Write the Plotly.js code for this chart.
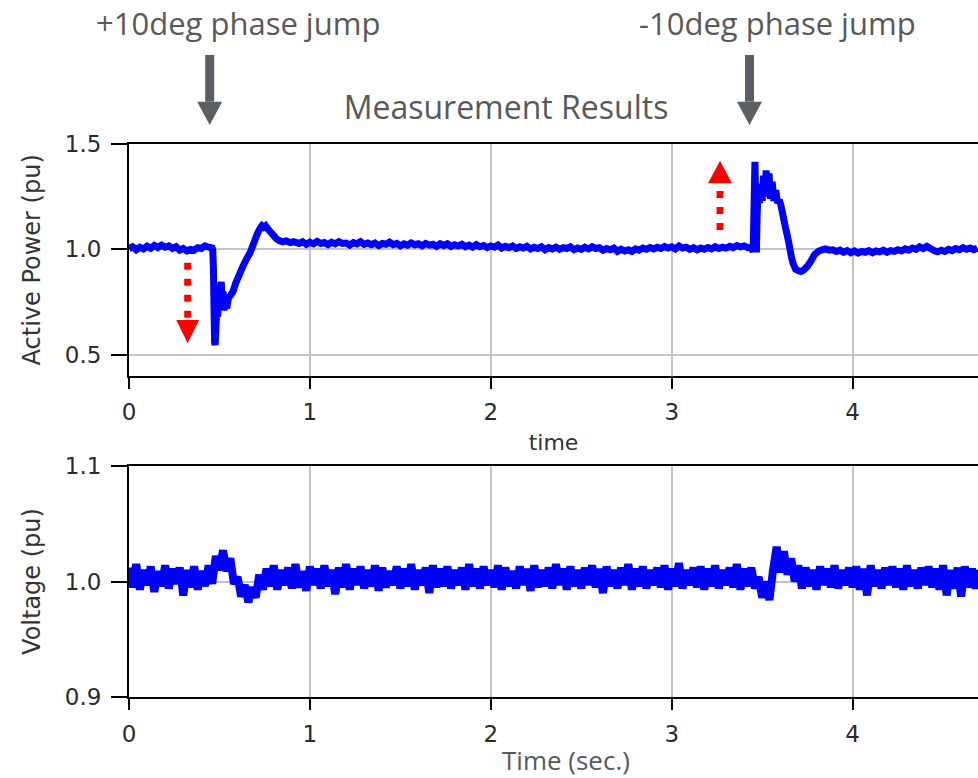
<!DOCTYPE html>
<html>
<head>
<meta charset="utf-8">
<script src="https://cdn.plot.ly/plotly-3.0.1.min.js"></script>
<style>html,body{margin:0;padding:0;background:#fff;}#chart{width:978px;height:778px;}</style>
</head>
<body>
<div id="chart"></div>
<script>
// ---------- Active power (pu), top panel ----------
const tA = [0,0.02,0.04,0.06,0.08,0.10,0.12,0.14,0.16,0.18,0.20,0.22,0.24,0.26,0.28,0.30,0.32,0.34,0.36,0.38,0.40,0.42,0.44,0.46];
const pA = [1.004,1.012,0.998,1.010,1.002,1.015,1.005,1.018,1.008,1.020,1.010,1.016,1.004,1.012,0.996,1.004,0.992,1.000,0.996,1.008,1.004,1.016,1.010,1.006];

const tJ1 = [0.463,0.467,0.470,0.473,0.476,0.480,0.485,0.490,0.495,0.500,0.505,0.510,0.515,0.520,0.525,0.530,0.540,0.550,0.560,0.575,0.590,0.610,0.630,0.650,0.670,0.690,0.710,0.725,0.735,0.745,0.755,0.765,0.780,0.800,0.815,0.830,0.850,0.870,0.890,0.910];
const pJ1 = [0.998,0.90,0.72,0.56,0.545,0.62,0.72,0.68,0.78,0.74,0.82,0.845,0.76,0.80,0.71,0.76,0.72,0.77,0.78,0.80,0.84,0.88,0.92,0.955,0.985,1.03,1.075,1.10,1.112,1.105,1.112,1.10,1.085,1.065,1.05,1.042,1.036,1.040,1.032,1.036];

const tB = [0.94,0.96,0.98,1.00,1.02,1.04,1.06,1.08,1.10,1.12,
1.14,1.16,1.18,1.20,1.22,1.24,1.26,1.28,1.30,1.32,
1.34,1.36,1.38,1.40,1.42,1.44,1.46,1.48,1.50,1.52,
1.54,1.56,1.58,1.60,1.62,1.64,1.66,1.68,1.70,1.72,
1.74,1.76,1.78,1.80,1.82,1.84,1.86,1.88,1.90,1.92,
1.94,1.96,1.98,2.00,2.02,2.04,2.06,2.08,2.10,2.12,
2.14,2.16,2.18,2.20,2.22,2.24,2.26,2.28,2.30,2.32,
2.34,2.36,2.38,2.40,2.42,2.44,2.46,2.48,2.50,2.52,
2.54,2.56,2.58,2.60,2.62,2.64,2.66,2.68,2.70,2.72,
2.74,2.76,2.78,2.80,2.82,2.84,2.86,2.88,2.90,2.92,
2.94,2.96,2.98,3.00,3.02,3.04,3.06,3.08,3.10,3.12,
3.14,3.16,3.18,3.20,3.22,3.24,3.26,3.28,3.30,3.32,
3.34,3.36,3.38,3.40,3.42];
const pB = [1.028,1.036,1.024,1.034,1.026,1.038,1.028,1.032,1.022,1.034,
1.026,1.036,1.028,1.030,1.020,1.032,1.026,1.036,1.024,1.030,
1.022,1.030,1.018,1.028,1.024,1.034,1.022,1.028,1.016,1.026,
1.020,1.030,1.022,1.026,1.016,1.028,1.020,1.024,1.014,1.026,
1.018,1.026,1.014,1.022,1.016,1.024,1.012,1.020,1.010,1.022,
1.012,1.018,1.008,1.016,1.010,1.020,1.006,1.014,1.008,1.016,
1.004,1.012,1.006,1.014,1.002,1.010,1.004,1.012,0.998,1.008,
1.002,1.010,1.000,1.008,1.004,1.012,0.998,1.006,1.000,1.010,
1.002,1.012,1.004,1.008,0.996,1.004,0.998,1.006,0.990,1.000,
0.992,0.998,0.990,1.002,0.996,1.006,1.000,1.008,1.002,1.010,
1.004,1.014,1.006,1.012,1.002,1.016,1.006,1.010,1.000,1.008,
0.998,1.006,1.000,1.008,1.002,1.012,1.004,1.010,1.006,1.014,
1.008,1.018,1.012,1.016,1.008];

const tJ2 = [3.440,3.450,3.455,3.460,3.465,3.468,3.472,3.478,3.485,3.492,3.500,3.508,3.515,3.522,3.530,3.538,3.546,3.555,3.565,3.575,3.585,3.595,3.606,3.620,3.635,3.650,3.660,3.670,3.685,3.700,3.715,3.730,3.750,3.770,3.790,3.810,3.830,3.850,3.870];
const pJ2 = [1.010,0.988,1.20,1.415,1.20,0.985,1.15,1.30,1.22,1.31,1.23,1.35,1.26,1.375,1.25,1.36,1.24,1.32,1.23,1.28,1.22,1.235,1.20,1.14,1.08,1.02,0.97,0.935,0.905,0.898,0.895,0.902,0.92,0.945,0.975,0.99,0.998,1.002,0.996];

const tC = [3.89,3.91,3.93,3.95,3.97,3.99,4.01,4.03,4.05,4.07,
4.09,4.11,4.13,4.15,4.17,4.19,4.21,4.23,4.25,4.27,
4.29,4.31,4.33,4.35,4.37,4.39,4.41,4.43,4.45,4.47,
4.49,4.51,4.53,4.55,4.57,4.59,4.61,4.63,4.65,4.67,
4.69];
const pC = [0.998,0.990,0.996,0.986,0.994,0.984,0.992,0.982,0.990,0.986,
0.994,0.984,0.992,0.988,0.996,0.986,0.994,0.990,0.998,0.992,
1.002,0.996,1.006,1.000,1.012,1.004,1.014,1.004,0.994,0.988,
0.996,0.990,1.000,0.994,1.004,0.998,1.008,1.000,1.006,0.998,
1.006];

// ---------- Voltage (pu), bottom panel ----------
const tV = [0,0.02,0.04,0.06,0.08,0.10,0.12,0.14,0.16,0.18,
0.20,0.22,0.24,0.26,0.28,0.30,0.32,0.34,0.36,0.38,
0.40,0.42,0.44,0.46,0.48,0.50,0.52,0.54,0.56,0.58,
0.60,0.62,0.64,0.66,0.68,0.70,0.72,0.74,0.76,0.78,
0.80,0.82,0.84,0.86,0.88,0.90,0.92,0.94,0.96,0.98,
1.00,1.02,1.04,1.06,1.08,1.10,1.12,1.14,1.16,1.18,
1.20,1.22,1.24,1.26,1.28,1.30,1.32,1.34,1.36,1.38,
1.40,1.42,1.44,1.46,1.48,1.50,1.52,1.54,1.56,1.58,
1.60,1.62,1.64,1.66,1.68,1.70,1.72,1.74,1.76,1.78,
1.80,1.82,1.84,1.86,1.88,1.90,1.92,1.94,1.96,1.98,
2.00,2.02,2.04,2.06,2.08,2.10,2.12,2.14,2.16,2.18,
2.20,2.22,2.24,2.26,2.28,2.30,2.32,2.34,2.36,2.38,
2.40,2.42,2.44,2.46,2.48,2.50,2.52,2.54,2.56,2.58,
2.60,2.62,2.64,2.66,2.68,2.70,2.72,2.74,2.76,2.78,
2.80,2.82,2.84,2.86,2.88,2.90,2.92,2.94,2.96,2.98,
3.00,3.02,3.04,3.06,3.08,3.10,3.12,3.14,3.16,3.18,
3.20,3.22,3.24,3.26,3.28,3.30,3.32,3.34,3.36,3.38,
3.40,3.42,3.44,3.46,3.48,3.50,3.52,3.54,3.56,3.58,
3.60,3.62,3.64,3.66,3.68,3.70,3.72,3.74,3.76,3.78,
3.80,3.82,3.84,3.86,3.88,3.90,3.92,3.94,3.96,3.98,
4.00,4.02,4.04,4.06,4.08,4.10,4.12,4.14,4.16,4.18,
4.20,4.22,4.24,4.26,4.28,4.30,4.32,4.34,4.36,4.38,
4.40,4.42,4.44,4.46,4.48,4.50,4.52,4.54,4.56,4.58,
4.60,4.62,4.64,4.66,4.68,4.70];
const vV = [1.012,0.995,1.015,0.993,1.010,0.997,1.013,0.991,1.009,0.996,
1.014,0.994,1.011,0.998,1.012,0.988,1.010,0.995,1.013,0.993,
1.009,0.996,1.014,0.998,1.022,1.010,1.027,1.009,1.020,0.998,
1.004,0.987,0.997,0.982,0.995,0.986,1.006,0.993,1.011,0.996,
1.014,0.993,1.010,0.997,1.012,0.994,1.015,0.995,1.009,0.992,
1.013,0.997,1.011,0.994,1.014,0.996,1.010,0.989,1.012,0.995,
1.015,0.993,1.011,0.997,1.013,0.994,1.010,0.996,1.014,0.992,
1.012,0.995,1.009,0.997,1.013,0.994,1.011,0.996,1.015,0.993,
1.010,0.997,1.012,0.990,1.014,0.995,1.011,0.996,1.013,0.994,
1.010,0.997,1.012,0.993,1.015,0.996,1.011,0.994,1.013,0.997,
1.010,0.995,1.014,0.993,1.012,0.996,1.009,0.994,1.013,0.997,
1.011,0.992,1.014,0.995,1.010,0.996,1.012,0.994,1.015,0.997,
1.011,0.993,1.013,0.996,1.010,0.994,1.012,0.997,1.014,0.995,
1.011,0.990,1.013,0.996,1.010,0.994,1.012,0.997,1.015,0.993,
1.011,0.996,1.013,0.994,1.010,0.997,1.012,0.995,1.014,0.993,
1.011,0.996,1.016,0.994,1.010,0.997,1.012,0.995,1.013,0.993,
1.011,0.996,1.014,0.994,1.010,0.997,1.012,0.995,1.015,0.993,
1.011,0.996,1.012,0.994,1.004,0.986,1.000,0.984,1.010,1.030,
1.008,1.026,1.006,1.020,1.000,1.014,0.994,1.012,0.996,1.010,
0.993,1.013,0.997,1.011,0.995,1.014,0.994,1.010,0.997,1.012,
0.995,1.013,0.993,1.011,0.988,1.014,0.996,1.010,0.994,1.012,
0.997,1.013,0.995,1.011,0.993,1.014,0.996,1.010,0.994,1.012,
0.997,1.013,0.995,1.011,0.993,1.014,0.988,1.010,0.994,1.012,
0.987,1.013,0.995,1.011,0.994,1.010];

// ---------- Axis ticks / labels ----------
const xTicks = [0,1,2,3,4];
const pTicks = [0.5,1.0,1.5];
const vTicks = [0.9,1.0,1.1];
const xRange = [0,4.693];
const pRange = [0.4,1.5];
const vRange = [0.9,1.1];

const tPower = tA.concat(tJ1, tB, tJ2, tC);
const pPower = pA.concat(pJ1, pB, pJ2, pC);

const traces = [
  {x: tPower, y: pPower, xaxis:'x', yaxis:'y', mode:'lines', type:'scatter',
   line:{color:'#0000ff', width:7, simplify:false}, hoverinfo:'skip', showlegend:false},
  {x: tV, y: vV, xaxis:'x2', yaxis:'y2', mode:'lines', type:'scatter',
   line:{color:'#0000ff', width:8, simplify:false}, hoverinfo:'skip', showlegend:false}
];

const tickFont = {family:'DejaVu Sans', size:23, color:'#2b2b2b'};
const axTitleFont = {family:'DejaVu Sans', size:24, color:'#333333'};
const grayFont = {family:'Open Sans', size:31, color:'#595959'};

function xax(anchor, titleObj){
  return {anchor:anchor, domain:[0,1], range:xRange, tickvals:xTicks, ticktext:xTicks.map(String),
    ticks:'outside', ticklen:11, tickwidth:2, tickcolor:'#000',
    showline:true, linecolor:'#000', linewidth:2, mirror:true,
    showgrid:true, gridcolor:'#c4c4c4', gridwidth:2, zeroline:false,
    tickfont:tickFont, ticklabelstandoff:4, title:titleObj, fixedrange:true};
}
function yax(anchor, domain, range, ticks, titleText){
  return {anchor:anchor, domain:domain, range:range, tickvals:ticks, ticktext:ticks.map(v=>v.toFixed(1)),
    ticks:'outside', ticklen:16, tickwidth:2, tickcolor:'#000',
    showline:true, linecolor:'#000', linewidth:2, mirror:false,
    showgrid:true, gridcolor:'#c4c4c4', gridwidth:2, zeroline:false,
    tickfont:tickFont, ticklabelstandoff:5,
    title:{text:titleText, font:axTitleFont, standoff:17}, fixedrange:true};
}

const grayArrow = '#5b5e62';
const layout = {
  width:978, height:778,
  margin:{l:129, r:0, t:144, b:81, pad:0},
  paper_bgcolor:'#ffffff', plot_bgcolor:'#ffffff',
  showlegend:false,
  title:{text:'Measurement Results', font:{family:'Open Sans', size:32, color:'#595959'},
         xref:'container', x:0.5174, xanchor:'center', yref:'container', y:0.862, yanchor:'middle'},
  xaxis: xax('y', {text:'time', font:{family:'DejaVu Sans', size:22, color:'#333333'}, standoff:10}),
  yaxis: yax('x', [0.581,1], pRange, pTicks, 'Active Power (pu)'),
  xaxis2: xax('y2', {text:''}),
  yaxis2: yax('x2', [0,0.4177], vRange, vTicks, 'Voltage (pu)'),
  annotations:[
    {text:'+10deg phase jump', xref:'paper', yref:'paper', x:0.1278, y:1.219, xanchor:'center', yanchor:'middle', showarrow:false, font:grayFont},
    {text:'-10deg phase jump', xref:'paper', yref:'paper', x:0.7638, y:1.219, xanchor:'center', yanchor:'middle', showarrow:false, font:grayFont},
    {text:'Time (sec.)', xref:'paper', yref:'paper', x:0.5147, y:-0.1139, xanchor:'center', yanchor:'middle', showarrow:false, font:{family:'Open Sans', size:26, color:'#595959'}}
  ],
  shapes:[
    // gray arrows (phase jump markers)
    {type:'line', xref:'paper', yref:'paper', x0:0.09505, x1:0.09505, y0:1.161, y1:1.0765, line:{color:grayArrow, width:9}},
    {type:'path', xref:'paper', yref:'paper', path:'M 0.08033 1.0765 L 0.10977 1.0765 L 0.09505 1.0344 Z', fillcolor:grayArrow, line:{width:0}},
    {type:'line', xref:'paper', yref:'paper', x0:0.73086, x1:0.73086, y0:1.161, y1:1.0765, line:{color:grayArrow, width:9}},
    {type:'path', xref:'paper', yref:'paper', path:'M 0.71614 1.0765 L 0.74558 1.0765 L 0.73086 1.0344 Z', fillcolor:grayArrow, line:{width:0}},
    // red dotted arrows
    {type:'line', xref:'x', yref:'y', x0:0.3245, x1:0.3245, y0:0.9364, y1:0.6643, line:{color:'#ff0000', width:7, dash:'7px,9px'}},
    {type:'path', xref:'x', yref:'y', path:'M 0.2609 0.6643 L 0.3881 0.6643 L 0.3245 0.5537 Z', fillcolor:'#ff0000', line:{width:0}},
    {type:'line', xref:'x', yref:'y', x0:3.267, x1:3.267, y0:1.0916, y1:1.3134, line:{color:'#ff0000', width:7, dash:'7px,9px'}},
    {type:'path', xref:'x', yref:'y', path:'M 3.2007 1.3134 L 3.3333 1.3134 L 3.267 1.4207 Z', fillcolor:'#ff0000', line:{width:0}}
  ]
};

Plotly.newPlot('chart', traces, layout, {displayModeBar:false, staticPlot:true});
</script>
</body>
</html>
